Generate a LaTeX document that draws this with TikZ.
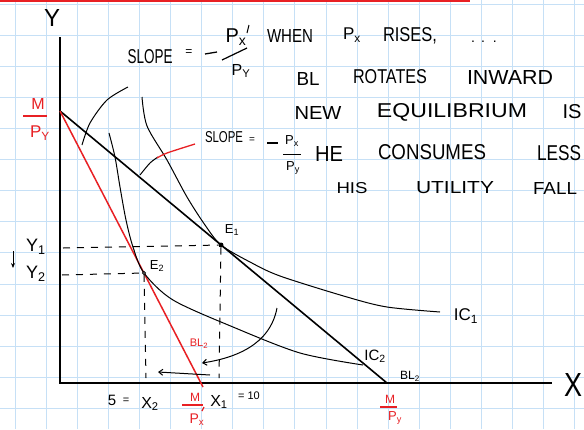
\documentclass[tikz,border=0pt]{standalone}
\usepackage{fontspec}
\setmainfont{Liberation Sans}
\usepackage{graphicx}
\usetikzlibrary{arrows.meta}
\definecolor{gridblue}{RGB}{198,224,246}
\definecolor{inkred}{RGB}{232,32,36}
\newcommand\hw[3]{\resizebox{#1pt}{#2pt}{#3}}
\newcommand\fs[1]{\fontsize{#1}{#1}\selectfont}
\begin{document}
\begin{tikzpicture}[x=1pt,y=-1pt,
  bggrid/.style={gridblue,line width=0.9pt},
  ink/.style={black,line width=1pt},
  axisln/.style={black,line width=1.8pt},
  redln/.style={inkred,line width=1.5pt},
  dashln/.style={black,line width=1pt,dash pattern=on 7pt off 7pt},
  lbl/.style={inner sep=0pt,outer sep=0pt,anchor=center},
  rlbl/.style={lbl,text=inkred},
  tip/.style={-{Straight Barb[length=4pt,width=6pt]}}
]
\useasboundingbox (0,0) rectangle (584,429);
\fill[white] (0,0) rectangle (584,429);
% grid
\foreach \i in {0,...,18} \draw[bggrid] ({15+31.1*\i},0) -- ({15+31.1*\i},429);
\foreach \j in {0,...,13} \draw[bggrid] (0,{4.5+31.05*\j}) -- (584,{4.5+31.05*\j});
\draw[inkred,line width=2pt] (0,0.8) -- (470,0.8);
% axes
\coordinate (O) at (60,383);
\coordinate (Ytop) at (60,37);
\coordinate (Xend) at (552,383);
\draw[axisln] (Ytop) -- (O) -- (Xend);
\node[lbl] (ylab) at (52,18) {\hw{16}{17}{Y}};
\node[lbl] (xlab) at (573,385) {\hw{18}{23}{X}};
% budget lines
\coordinate (A) at (60,111);
\coordinate (B1) at (387,383);
\coordinate (B2) at (203,387);
\draw[axisln,line width=1.6pt] (A) -- (B1);
\draw[redln] (A) -- (B2);
% indifference curves
\draw[ink] plot[smooth] coordinates {(142,97) (147,126) (167,160) (187,197) (205,225) (221,245) (250,262) (280,276) (347,297) (387,307) (440,312)};
\draw[ink] plot[smooth] coordinates {(109,133) (115,157) (120,187) (126,220) (133,247) (144,273) (173,300) (233,327) (300,353) (363,365)};
% pointer curves
\draw[ink] plot[smooth] coordinates {(82,145) (90,123) (107,100) (128,87)};
\draw[ink] plot[smooth] coordinates {(140,175) (150,163) (158,157)};
\draw[redln,line width=1.3pt] plot[smooth] coordinates {(157,158) (167,153) (195,144)};
% equilibria
\node[circle,fill=black,inner sep=0pt,minimum size=5pt] (E1) at (221,245) {};
\node[circle,draw=black,fill=white,inner sep=0pt,minimum size=3pt,line width=0.8pt] (E2) at (144,273) {};
\node[lbl] (e1l) at (232,230) {\fs{13}E\textsubscript{1}};
\node[lbl] (e2l) at (157,266) {\fs{13}E\textsubscript{2}};
% dashed guides
\coordinate (Y1) at (63,248);
\coordinate (Y2) at (62,275);
\coordinate (X1b) at (219,378);
\coordinate (X2b) at (146,378);
\draw[dashln] (Y1) -- (E1);
\draw[dashln] (Y2) -- (E2);
\draw[dashln] (E1) -- (X1b);
\draw[dashln] (E2) -- (X2b);
% left labels
\node[rlbl] (mL) at (38,104) {\fs{16}M};
\draw[redln,line width=1.2pt] (23,116) -- (47,116);
\node[rlbl] (pyL) at (40,133) {\fs{17}P\textsubscript{Y}};
\node[lbl] (y1l) at (36,247) {\fs{18}Y\textsubscript{1}};
\node[lbl] (y2l) at (36,274) {\fs{18}Y\textsubscript{2}};
\coordinate (da1) at (13,251);
\coordinate (da2) at (13,268);
\draw[ink,-{Stealth[length=5pt,width=4pt]}] (da1) -- (da2);
% arrows
\coordinate (ca1) at (277,308);
\coordinate (ca2) at (202,363);
\draw[ink,tip] (ca1) .. controls (270,345) and (235,358) .. (ca2);
\coordinate (sa1) at (210,375);
\coordinate (sa2) at (158,372);
\draw[ink,tip] (sa1) -- (sa2);
% curve / line labels
\node[rlbl] (bl2r) at (199,344) {\fs{11}BL\textsubscript{2}};
\node[lbl] (ic1) at (466,316) {\fs{17}IC\textsubscript{1}};
\node[lbl] (ic2) at (375,356) {\fs{15}IC\textsubscript{2}};
\node[lbl] (bl2b) at (410,376) {\fs{12}BL\textsubscript{2}};
% bottom labels
\node[lbl] (five) at (112,400) {\fs{15}5};
\node[lbl] (eqa) at (126,401) {\fs{11}=};
\node[lbl] (x2l) at (150,404) {\fs{16}X\textsubscript{2}};
\node[rlbl] (mB) at (195,397) {\fs{12}M};
\draw[redln,line width=1.2pt] (182,405) -- (203,405);
\node[rlbl] (pxB) at (197,420) {\fs{14}P\textsubscript{x}};
\draw[redln,line width=1.2pt] (204,407) -- (202,411);
\node[lbl] (x1l) at (219,402) {\fs{16}X\textsubscript{1}};
\node[lbl] (ten) at (249,396) {\fs{11}= 10};
\node[rlbl] (mR) at (390,399) {\fs{12}M};
\draw[redln,line width=1.2pt] (380,407) -- (397,407);
\node[rlbl] (pyR) at (395,418) {\fs{13}P\textsubscript{y}};
% slope 1
\node[lbl] (s1) at (150,57) {\hw{45}{14}{SLOPE}};
\node[lbl] (s1eq) at (189,53) {\fs{12}=};
\coordinate (m1a) at (205,54);
\coordinate (m1b) at (217,52);
\draw[ink,line width=1.3pt] (m1a) -- (m1b);
\node[lbl] (s1num) at (236,37) {\fs{20}P\textsubscript{x}};
\coordinate (pr1) at (249,25);
\coordinate (pr2) at (247,33);
\draw[ink] (pr1) -- (pr2);
\coordinate (fb1) at (222,60);
\coordinate (fb2) at (247,48);
\draw[ink,line width=1.2pt] (fb1) -- (fb2);
\node[lbl] (s1den) at (241,71) {\fs{16}P\textsubscript{Y}};
% slope 2
\node[lbl] (s2) at (224,137) {\hw{38}{11}{SLOPE}};
\node[lbl] (s2eq) at (252,140) {\fs{10}=};
\coordinate (m2a) at (267,143);
\coordinate (m2b) at (278,143);
\draw[ink,line width=1.2pt] (m2a) -- (m2b);
\node[lbl] (s2num) at (292,141) {\fs{13}P\textsubscript{x}};
\coordinate (fc1) at (283,154);
\coordinate (fc2) at (301,154);
\draw[ink] (fc1) -- (fc2);
\node[lbl] (s2den) at (293,168) {\fs{13}P\textsubscript{y}};
% text rows
\node[lbl] (w1) at (290,36) {\hw{46}{13}{WHEN}};
\node[lbl] (w2) at (352,35) {\fs{17}P\textsubscript{x}};
\node[lbl] (w3) at (410,36) {\hw{54}{14}{RISES,}};
\node[lbl] (w4) at (484,42) {\fs{14}.\hspace{6pt}.\hspace{8pt}.};
\node[lbl] (w5) at (308,79) {\hw{23}{13}{BL}};
\node[lbl] (w6) at (390,77) {\hw{74}{14}{ROTATES}};
\node[lbl] (w7) at (510,77) {\hw{86}{14}{INWARD}};
\node[lbl] (w8) at (318,113) {\hw{47}{13}{NEW}};
\node[lbl] (w9) at (452,112) {\hw{150}{14}{EQUILIBRIUM}};
\node[lbl] (w10) at (572,112) {\hw{19}{14}{IS}};
\node[lbl] (w11) at (329,154) {\hw{28}{15}{HE}};
\node[lbl] (w12) at (432,152) {\hw{108}{15}{CONSUMES}};
\node[lbl] (w13) at (559,153) {\hw{44}{15}{LESS}};
\node[lbl] (w14) at (352,188) {\hw{31}{11}{HIS}};
\node[lbl] (w15) at (455,188) {\hw{78}{12}{UTILITY}};
\node[lbl] (w16) at (555,188) {\hw{44}{12}{FALL}};
\end{tikzpicture}
\end{document}
